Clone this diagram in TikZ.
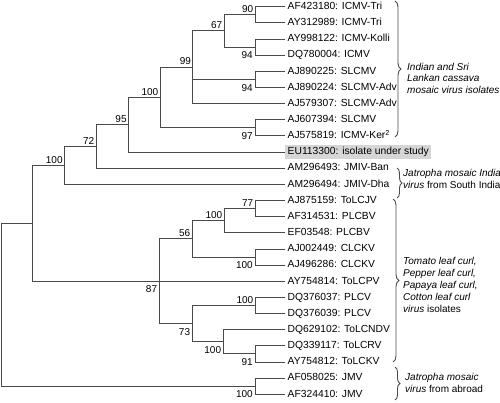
\documentclass[tikz,border=0pt]{standalone}
\usepackage{fontspec}
\setmainfont{Liberation Sans}
\usetikzlibrary{decorations.pathreplacing}
\definecolor{treegray}{HTML}{4A4A4A}
\definecolor{hilite}{HTML}{D6D6D6}

\begin{document}
\begin{tikzpicture}[x=1pt,y=-1pt,
    font=\fontsize{10.3}{12}\selectfont,
    leaf/.style={anchor=west,inner xsep=2.5pt,inner ysep=2pt,text height=7.5pt,text depth=2pt},
    boot/.style={font=\fontsize{10}{12}\selectfont,inner sep=0pt,anchor=east,text height=7.3pt,text depth=0pt},
    bup/.style={boot,xshift=-1.5pt,yshift=6pt},
    bdn/.style={boot,xshift=-2pt,yshift=-8pt},
    br/.style={draw=treegray,line width=0.9pt},
    grp/.style={draw=treegray,line width=0.9pt,decorate,decoration={brace,amplitude=#1}},
    grplab/.style={anchor=west,align=left,inner sep=0pt,font=\fontsize{10}{11.8}\selectfont},
  ]
    \useasboundingbox (0,0) rectangle (500,403);

    \node[leaf] (l1)  at (285,6.7)   {AF423180: ICMV-Tri};
    \node[leaf] (l2)  at (285,22.85) {AY312989: ICMV-Tri};
    \node[leaf] (l3)  at (285,39.0)  {AY998122: ICMV-Kolli};
    \node[leaf] (l4)  at (285,55.15) {DQ780004: ICMV};
    \node[leaf] (l5)  at (285,71.3)  {AJ890225: SLCMV};
    \node[leaf] (l6)  at (285,87.45) {AJ890224: SLCMV-Adv};
    \node[leaf] (l7)  at (285,103.6) {AJ579307: SLCMV-Adv};
    \node[leaf] (l8)  at (285,119.75) {AJ607394: SLCMV};
    \node[leaf] (l9)  at (285,135.9) {AJ575819: ICMV-Ker\textsuperscript{2}};
    \node[leaf,fill=hilite] (l10) at (285,152.05) {EU113300: isolate under study\hspace{4pt}};
    \node[leaf] (l11) at (285,168.2) {AM296493: JMIV-Ban};
    \node[leaf] (l12) at (285,184.35) {AM296494: JMIV-Dha};
    \node[leaf] (l13) at (285,200.5) {AJ875159: ToLCJV};
    \node[leaf] (l14) at (285,216.65) {AF314531: PLCBV};
    \node[leaf] (l15) at (285,232.8) {EF03548: PLCBV};
    \node[leaf] (l16) at (285,248.95) {AJ002449: CLCKV};
    \node[leaf] (l17) at (285,265.1) {AJ496286: CLCKV};
    \node[leaf] (l18) at (285,281.25) {AY754814: ToLCPV};
    \node[leaf] (l19) at (285,297.4) {DQ376037: PLCV};
    \node[leaf] (l20) at (285,313.55) {DQ376039: PLCV};
    \node[leaf] (l21) at (285,329.7) {DQ629102: ToLCNDV};
    \node[leaf] (l22) at (285,345.85) {DQ339117: ToLCRV};
    \node[leaf] (l23) at (285,362.0) {AY754812: ToLCKV};
    \node[leaf] (l24) at (285,378.15) {AF058025: JMV};
    \node[leaf] (l25) at (285,394.3) {AF324410: JMV};

    \coordinate (n90)   at (255,14.8);
    \coordinate (n94a)  at (255,47.1);
    \coordinate (n67)   at (224,30.95);
    \coordinate (n94b)  at (255,79.4);
    \coordinate (n99)   at (192.7,67.3);
    \coordinate (n97)   at (255,127.8);
    \coordinate (n100a) at (160,97.55);
    \coordinate (n95)   at (128.3,124.8);
    \coordinate (n72)   at (96,146.5);
    \coordinate (n100b) at (64.3,165.4);
    \coordinate (n77)   at (255,208.6);
    \coordinate (n100c) at (224,220.7);
    \coordinate (n100d) at (255,257.0);
    \coordinate (n56)   at (192,238.85);
    \coordinate (n100e) at (255,305.5);
    \coordinate (n91)   at (255,353.9);
    \coordinate (n100f) at (223.3,341.8);
    \coordinate (n73)   at (192.3,323.65);
    \coordinate (n87)   at (159.3,281.25);
    \coordinate (n32)   at (32.3,223.3);
    \coordinate (n100g) at (255,386.2);
    \coordinate (root)  at (1.5,304.8);

    \draw[br] (n90) |- (l1.west) (n90) |- (l2.west);
    \draw[br] (n94a) |- (l3.west) (n94a) |- (l4.west);
    \draw[br] (n67) |- (n90) (n67) |- (n94a);
    \draw[br] (n94b) |- (l5.west) (n94b) |- (l6.west);
    \draw[br] (n99) |- (n67) (n99) |- (n94b) (n99) |- (l7.west);
    \draw[br] (n97) |- (l8.west) (n97) |- (l9.west);
    \draw[br] (n100a) |- (n99) (n100a) |- (n97);
    \draw[br] (n95) |- (n100a) (n95) |- (l10.west);
    \draw[br] (n72) |- (n95) (n72) |- (l11.west);
    \draw[br] (n100b) |- (n72) (n100b) |- (l12.west);
    \draw[br] (n77) |- (l13.west) (n77) |- (l14.west);
    \draw[br] (n100c) |- (n77) (n100c) |- (l15.west);
    \draw[br] (n100d) |- (l16.west) (n100d) |- (l17.west);
    \draw[br] (n56) |- (n100c) (n56) |- (n100d);
    \draw[br] (n100e) |- (l19.west) (n100e) |- (l20.west);
    \draw[br] (n91) |- (l22.west) (n91) |- (l23.west);
    \draw[br] (n100f) |- (l21.west) (n100f) |- (n91);
    \draw[br] (n73) |- (n100e) (n73) |- (n100f);
    \draw[br] (n87) |- (n56) (n87) |- (l18.west) (n87) |- (n73);
    \draw[br] (n32) |- (n100b) (n32) |- (n87);
    \draw[br] (n100g) |- (l24.west) (n100g) |- (l25.west);
    \draw[br] (root) |- (n32) (root) |- (n100g);

    \node[bup] (b90)   at (n90)   {90};
    \node[bdn] (b94a)  at (n94a)  {94};
    \node[bup] (b67)   at (n67)   {67};
    \node[bdn] (b94b)  at (n94b)  {94};
    \node[bup] (b99)   at (n99)   {99};
    \node[bdn] (b97)   at (n97)   {97};
    \node[bup] (b100a) at (n100a) {100};
    \node[bup] (b95)   at (n95)   {95};
    \node[bup] (b72)   at (n72)   {72};
    \node[bup] (b100b) at (n100b) {100};
    \node[bup] (b77)   at (n77)   {77};
    \node[bup] (b100c) at (n100c) {100};
    \node[bdn] (b100d) at (n100d) {100};
    \node[bup] (b56)   at (n56)   {56};
    \node[bup] (b100e) at (n100e) {100};
    \node[bdn] (b91)   at (n91)   {91};
    \node[bdn] (b100f) at (n100f) {100};
    \node[bdn] (b73)   at (n73)   {73};
    \node[bdn] (b87)   at (n87)   {87};
    \node[bdn] (b100g) at (n100g) {100};

    \draw[grp=6pt] (395,1) -- (395,137);
    \draw[grp=5pt] (397,168) -- (397,198);
    \draw[grp=6pt] (393,199) -- (393,362);
    \draw[grp=5pt] (395,367) -- (395,400);

    \node[grplab] (t1) at (407,78.3) {\textit{Indian and Sri}\\\textit{Lankan cassava}\\\textit{mosaic virus isolates}};
    \node[grplab] (t2) at (403,179) {\textit{Jatropha mosaic India}\\\textit{virus} from South India};
    \node[grplab] (t3) at (403,285) {\textit{Tomato leaf curl,}\\\textit{Pepper leaf curl,}\\\textit{Papaya leaf curl,}\\\textit{Cotton leaf curl}\\\textit{virus} isolates};
    \node[grplab] (t4) at (405,383.3) {\textit{Jatropha mosaic}\\\textit{virus} from abroad};
  \end{tikzpicture}
\end{document}
